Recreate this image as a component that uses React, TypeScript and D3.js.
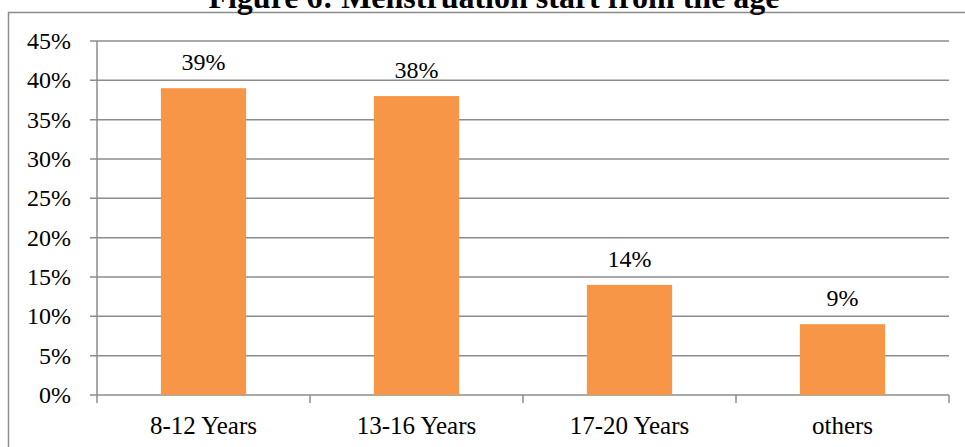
import React, { useRef, useEffect } from "react";
import { select, scaleBand, scaleLinear, range } from "d3";

const categories = ["8-12 Years", "13-16 Years", "17-20 Years", "others"];
const values = [39, 38, 14, 9];
const yTicks = [0, 5, 10, 15, 20, 25, 30, 35, 40, 45];
const title = "Figure 6: Menstruation start from the age";

const W = 965;
const H = 447;
const FONT = "'Liberation Serif', 'Times New Roman', serif";

export default function App() {
  const ref = useRef<SVGSVGElement>(null);

  useEffect(() => {
    const svg = select(ref.current);
    svg.selectAll("*").remove();

    const left = 97,
      right = 949,
      top = 41,
      bottom = 395;

    const x = scaleBand<string>()
      .domain(categories)
      .range([left, right])
      .paddingInner(0.6)
      .paddingOuter(0.3);
    const y = scaleLinear().domain([0, 45]).range([bottom, top]);

    // chart frame
    svg
      .append("rect")
      .attr("x", 8.5)
      .attr("y", 12.5)
      .attr("width", 970)
      .attr("height", 460)
      .attr("fill", "#fff")
      .attr("stroke", "#8c8c8c")
      .attr("stroke-width", 1.5);

    // title (cut off at top)
    svg
      .append("text")
      .attr("x", 494)
      .attr("y", 8)
      .attr("text-anchor", "middle")
      .style("font-family", FONT)
      .style("font-weight", "bold")
      .style("font-size", "32px")
      .text(title);

    // grid lines + y ticks
    const g = svg.append("g");
    g.selectAll("line.grid")
      .data(yTicks)
      .enter()
      .append("line")
      .attr("x1", left - 7)
      .attr("x2", right)
      .attr("y1", (d) => y(d))
      .attr("y2", (d) => y(d))
      .attr("stroke", "#8c8c8c")
      .attr("stroke-width", 1.5);

    g.selectAll("text.ytick")
      .data(yTicks)
      .enter()
      .append("text")
      .attr("x", 71)
      .attr("y", (d) => y(d) + 8)
      .attr("text-anchor", "end")
      .style("font-family", FONT)
      .style("font-size", "24px")
      .text((d) => d + "%");

    // y axis line
    g.append("line")
      .attr("x1", left)
      .attr("x2", left)
      .attr("y1", top)
      .attr("y2", bottom)
      .attr("stroke", "#8c8c8c")
      .attr("stroke-width", 1.5);

    // category ticks at band edges
    const step = x.step();
    g.selectAll("line.xtick")
      .data(range(categories.length + 1))
      .enter()
      .append("line")
      .attr("x1", (i) => left + i * ((right - left) / categories.length))
      .attr("x2", (i) => left + i * ((right - left) / categories.length))
      .attr("y1", bottom)
      .attr("y2", bottom + 8)
      .attr("stroke", "#8c8c8c")
      .attr("stroke-width", 1.5);

    // bars
    g.selectAll("rect.bar")
      .data(values)
      .enter()
      .append("rect")
      .attr("x", (d, i) => x(categories[i])!)
      .attr("y", (d) => y(d))
      .attr("width", x.bandwidth())
      .attr("height", (d) => bottom - y(d))
      .style("fill", "#F79646");

    // value labels
    g.selectAll("text.val")
      .data(values)
      .enter()
      .append("text")
      .attr("x", (d, i) => x(categories[i])! + x.bandwidth() / 2)
      .attr("y", (d) => y(d) - 18)
      .attr("text-anchor", "middle")
      .style("font-family", FONT)
      .style("font-size", "24px")
      .text((d) => d + "%");

    // category labels
    g.selectAll("text.cat")
      .data(categories)
      .enter()
      .append("text")
      .attr("x", (d) => x(d)! + x.bandwidth() / 2)
      .attr("y", 434)
      .attr("text-anchor", "middle")
      .style("font-family", FONT)
      .style("font-size", "25px")
      .text((d) => d);

    void step;
  }, []);

  return (
    <svg
      ref={ref}
      width={W}
      height={H}
      style={{ position: "absolute", left: 0, top: 0, background: "#fff" }}
    />
  );
}
